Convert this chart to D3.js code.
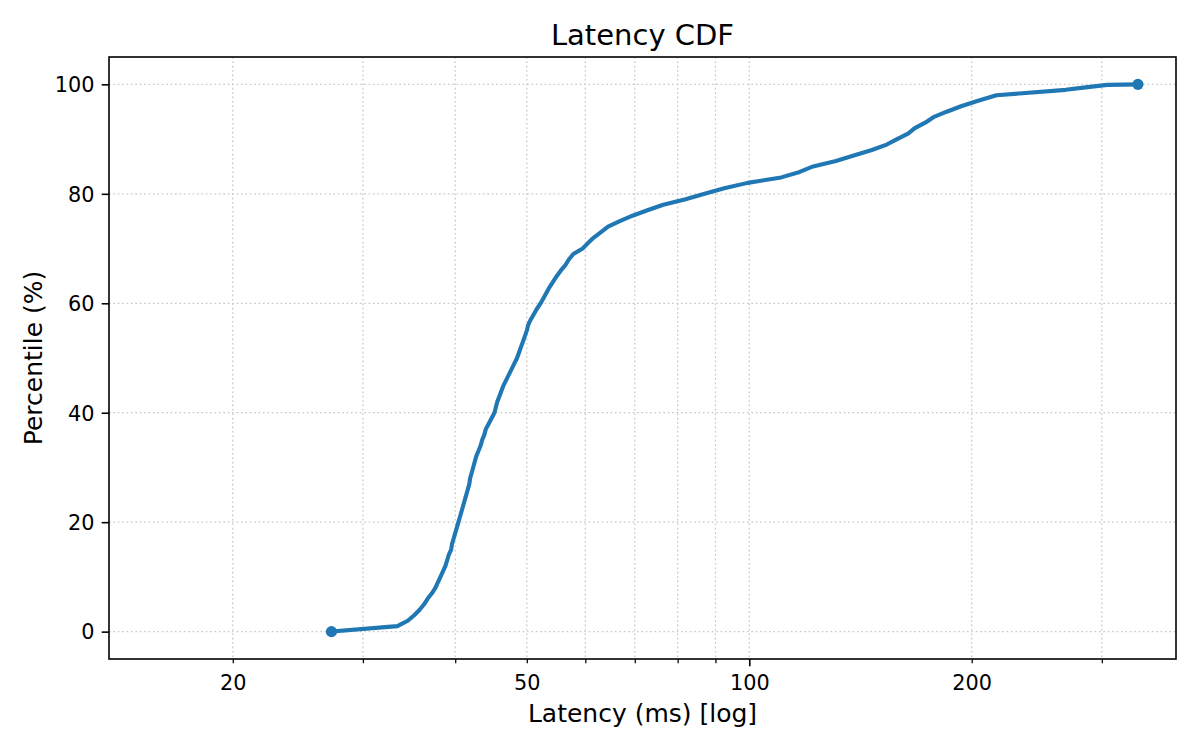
<!DOCTYPE html>
<html>
<head>
<meta charset="utf-8">
<script src="https://cdn.jsdelivr.net/npm/d3@7"></script>
<style>
  body { margin: 0; background: #fff; }
  text { font-family: "DejaVu Sans", sans-serif; fill: #000; }
</style>
</head>
<body>
<svg id="chart" width="1200" height="750"></svg>
<script>
// percentile values (y) and the latency in ms reached at each one (x)
const percentiles = [
    0, 1, 2, 3, 4, 5, 6, 7, 8, 9, 10, 11, 12, 13, 14, 15, 16, 17, 18, 19,
    20, 21, 22, 23, 24, 25, 26, 27, 28, 29, 30, 31, 32, 33, 34, 35, 36, 37, 38, 39,
    40, 41, 42, 43, 44, 45, 46, 47, 48, 49, 50, 51, 52, 53, 54, 55, 56, 57, 58, 59,
    60, 61, 62, 63, 64, 65, 66, 67, 68, 69, 70, 71, 72, 73, 74, 75, 76, 77, 78, 79,
    80, 81, 82, 83, 84, 85, 86, 87, 88, 89, 90, 91, 92, 93, 94, 95, 96, 97, 98, 99,
    99.5, 99.9, 100
];
const latencies = [
    27.2, 33.4, 34.5, 35.2, 35.8, 36.3, 36.7, 37.2, 37.6, 37.9,
    38.2, 38.5, 38.8, 39.0, 39.2, 39.5, 39.6, 39.8, 40.0, 40.2,
    40.4, 40.6, 40.8, 41.0, 41.2, 41.4, 41.6, 41.8, 41.9, 42.1,
    42.3, 42.5, 42.7, 43.0, 43.3, 43.5, 43.8, 44.0, 44.4, 44.8,
    45.2, 45.4, 45.6, 45.9, 46.2, 46.5, 46.9, 47.3, 47.7, 48.1,
    48.5, 48.8, 49.1, 49.4, 49.7, 50.0, 50.2, 50.6, 51.1, 51.6,
    52.2, 52.7, 53.2, 53.7, 54.3, 54.9, 55.6, 56.4, 57.0, 57.8,
    59.5, 60.5, 61.6, 63.0, 64.4, 66.8, 69.5, 72.8, 76.5, 82.0,
    87.0, 92.5, 99.5, 110.5, 117.0, 122.0, 131.0, 138.5, 146.5, 153.5,
    158.5, 164.0, 167.5, 173.0, 177.5, 185.0, 193.5, 204.0, 216.0, 268.0,
    287.0, 305.0, 335.7
];

// axis ticks
const xTicks = [20, 30, 40, 50, 60, 70, 80, 90, 100, 200, 300];
const xMajor = [100];
const xLabels = { 20: "20", 50: "50", 100: "100", 200: "200" };
const yTicks = [0, 20, 40, 60, 80, 100];

const xDomain = [13.6, 378];
const yDomain = [-5, 105];

const margin = { left: 109, right: 1176, top: 57, bottom: 659 };

const svg = d3.select("#chart");

const x = d3.scaleLog().domain(xDomain).range([margin.left, margin.right]);
const y = d3.scaleLinear().domain(yDomain).range([margin.bottom, margin.top]);

const data = percentiles.map((p, i) => ({ p: p, ms: latencies[i] }));

// grid (dotted)
const grid = svg.append("g").attr("class", "grid")
    .attr("stroke", "#c6c6c6").attr("stroke-width", 1.25).attr("stroke-dasharray", "1.6,2.8");

grid.selectAll(".vgrid").data(xTicks).enter().append("line")
    .attr("x1", d => x(d)).attr("x2", d => x(d))
    .attr("y1", margin.top).attr("y2", margin.bottom);

grid.selectAll(".hgrid").data(yTicks).enter().append("line")
    .attr("x1", margin.left).attr("x2", margin.right)
    .attr("y1", d => y(d)).attr("y2", d => y(d));

// x axis
const xAxis = d3.axisBottom(x).tickValues(xTicks)
    .tickSize(0).tickPadding(0)
    .tickFormat(d => xLabels[d] || "");

const gx = svg.append("g").attr("transform", "translate(0," + margin.bottom + ")").call(xAxis);
gx.select(".domain").remove();
gx.selectAll(".tick line")
    .attr("y2", d => xMajor.includes(d) ? 7.3 : 4.2)
    .attr("stroke", "#000")
    .attr("stroke-width", d => xMajor.includes(d) ? 1.6 : 1.25);
gx.selectAll(".tick text")
    .attr("y", 31).attr("dy", null)
    .style("font-size", "20.8px").attr("fill", "#000");

// y axis
const yAxis = d3.axisLeft(y).tickValues(yTicks).tickSize(7.3).tickPadding(7.3);
const gy = svg.append("g").attr("transform", "translate(" + margin.left + ",0)").call(yAxis);
gy.select(".domain").remove();
gy.selectAll(".tick line").attr("stroke", "#000").attr("stroke-width", 1.6);
gy.selectAll(".tick text").style("font-size", "20.8px").attr("fill", "#000").attr("dy", "0.35em");

// line
const line = d3.line().x(d => x(d.ms)).y(d => y(d.p));

svg.append("path").datum(data)
    .attr("fill", "none")
    .attr("stroke", "#1f77b4")
    .attr("stroke-width", 4.1)
    .attr("stroke-linejoin", "round")
    .attr("stroke-linecap", "square")
    .attr("d", line);

// end markers
svg.selectAll(".endDot").data([data[0], data[data.length - 1]]).enter().append("circle")
    .attr("class", "endDot")
    .attr("cx", d => x(d.ms)).attr("cy", d => y(d.p))
    .attr("r", 5.6).attr("fill", "#1f77b4");

// frame
svg.append("rect")
    .attr("x", margin.left).attr("y", margin.top)
    .attr("width", margin.right - margin.left).attr("height", margin.bottom - margin.top)
    .attr("fill", "none").attr("stroke", "#000").attr("stroke-width", 1.6);

// labels
svg.append("text")
    .attr("x", (margin.left + margin.right) / 2).attr("y", 45)
    .attr("text-anchor", "middle").style("font-size", "29px")
    .text("Latency CDF");

svg.append("text")
    .attr("x", (margin.left + margin.right) / 2).attr("y", 722)
    .attr("text-anchor", "middle").style("font-size", "25px")
    .text("Latency (ms) [log]");

svg.append("text")
    .attr("transform", "translate(42," + (margin.top + margin.bottom) / 2 + ") rotate(-90)")
    .attr("text-anchor", "middle").style("font-size", "25px")
    .text("Percentile (%)");
</script>
</body>
</html>
